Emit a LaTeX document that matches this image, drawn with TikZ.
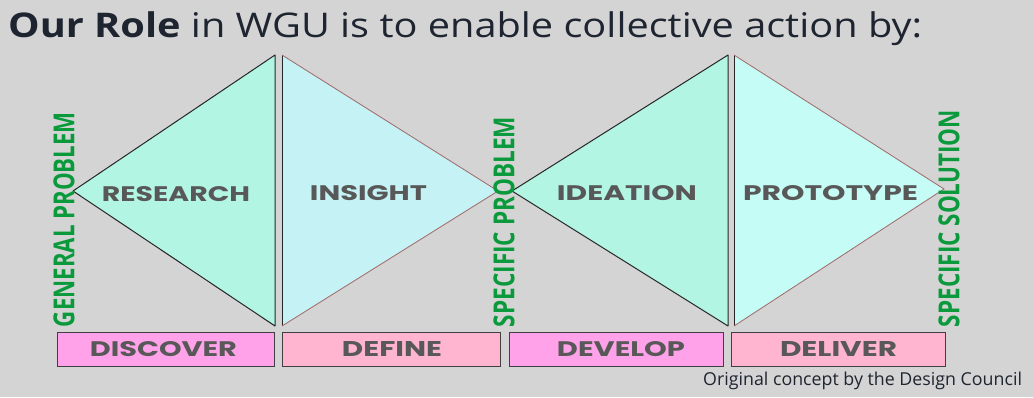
\documentclass[tikz,border=0pt]{standalone}
\usepackage{fontspec}
\setmainfont{Open Sans}
\newfontfamily\labfont{Poppins}
\newfontfamily\grfont{Open Sans}
\definecolor{bgc}{HTML}{D4D4D4}
\definecolor{mint}{HTML}{B2F5E3}
\definecolor{cyanl}{HTML}{C4F2F5}
\definecolor{cyanp}{HTML}{C6FCF6}
\definecolor{pinka}{HTML}{FFA2E9}
\definecolor{pinkb}{HTML}{FFB4CF}
\definecolor{labgray}{HTML}{585858}
\definecolor{grn}{HTML}{0A9A3C}
\definecolor{ttl}{HTML}{1E2530}
\definecolor{edgeR}{HTML}{A06868}
\begin{document}
\begin{tikzpicture}[x=1pt,y=-1pt,
  lab/.style={inner sep=0pt, text=labgray},
  vlab/.style={inner sep=0pt, text=grn, rotate=90},
  phase/.style={draw=black!75, line width=0.9pt},
  darkedge/.style={draw=black!85, line width=1pt},
  rededge/.style={draw=edgeR, line width=0.8pt}]
\useasboundingbox (0,0) rectangle (1033,397);
\clip (0,0) rectangle (1033,397);
\fill[bgc] (0,0) rectangle (1033,397);
% title
\node[anchor=base west, inner sep=0pt, text=ttl] (title) at (8,37)
  {\scalebox{1.168}[1]{\fontsize{34}{40}\selectfont\textbf{Our Role} in WGU is to enable collective action by:}};
% triangles
\fill[mint] (73,191) -- (275,55) -- (275,326) -- cycle;
\draw[darkedge, line join=round] (275,55) -- (73,191) -- (275,326) -- cycle;
\fill[cyanl] (282,55) -- (498,191) -- (282,326) -- cycle;
\draw[darkedge] (282,55) -- (282,326);
\draw[rededge] (282,55) -- (498,191) -- (282,326);
\fill[mint] (512,191) -- (728,55) -- (728,326) -- cycle;
\draw[darkedge, line join=round] (728,55) -- (512,191) -- (728,326) -- cycle;
\fill[cyanp] (734,55) -- (944,189) -- (734,326) -- cycle;
\draw[darkedge] (734,55) -- (734,326);
\draw[rededge] (734,55) -- (944,189) -- (734,326);
% triangle labels
\node[lab] (research) at (176,194) {\resizebox{148pt}{15pt}{\labfont\bfseries RESEARCH}};
\node[lab] (insight) at (368.5,193) {\resizebox{117pt}{15pt}{\labfont\bfseries INSIGHT}};
\node[lab] (ideation) at (627,193) {\resizebox{140pt}{15pt}{\labfont\bfseries IDEATION}};
\node[lab] (prototype) at (830.5,193) {\resizebox{175pt}{15pt}{\labfont\bfseries PROTOTYPE}};
% vertical labels
\node[vlab] (gp) at (64,219.5) {\resizebox{215pt}{21pt}{\grfont\bfseries GENERAL PROBLEM}};
\node[vlab] (sp) at (504,222) {\resizebox{210pt}{21pt}{\grfont\bfseries SPECIFIC PROBLEM}};
\node[vlab] (ss) at (949,218.5) {\resizebox{217pt}{21pt}{\grfont\bfseries SPECIFIC SOLUTION}};
% bottom boxes
\filldraw[phase, fill=pinka] (57,332) rectangle (274,366);
\filldraw[phase, fill=pinkb] (282,332) rectangle (500,366);
\filldraw[phase, fill=pinka] (509,332) rectangle (723,366);
\filldraw[phase, fill=pinkb] (731,332) rectangle (945,366);
\node[lab] (discover) at (163.5,349) {\resizebox{147pt}{15pt}{\labfont\bfseries DISCOVER}};
\node[lab] (define) at (392,349) {\resizebox{100pt}{15pt}{\labfont\bfseries DEFINE}};
\node[lab] (develop) at (621,349) {\resizebox{128pt}{15pt}{\labfont\bfseries DEVELOP}};
\node[lab] (deliver) at (838.5,349) {\resizebox{117pt}{15pt}{\labfont\bfseries DELIVER}};
% caption
\node[anchor=base west, inner sep=0pt, text=ttl] (caption) at (703,385)
  {\fontsize{17.8}{22}\selectfont Original concept by the Design Council};
\end{tikzpicture}
\end{document}
